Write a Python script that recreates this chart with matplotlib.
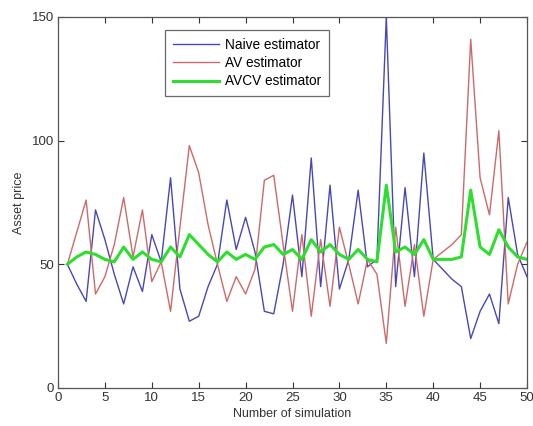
import matplotlib
matplotlib.use("Agg")
import matplotlib.pyplot as plt

sim = list(range(1, 51))
naive = [50, 42, 35, 72, 60, 46, 34, 49, 39, 62,
         51, 85, 40, 27, 29, 41, 50, 76, 56, 69,
         55, 31, 30, 50, 78, 45, 93, 41, 82, 40,
         52, 80, 49, 52, 150, 41, 81, 45, 95, 52,
         48, 44, 41, 20, 31, 38, 26, 77, 54, 45]
av = [50, 63, 76, 38, 45, 58, 77, 53, 72, 43,
      51, 31, 65, 98, 87, 66, 50, 35, 45, 38,
      48, 84, 86, 58, 31, 62, 29, 60, 33, 65,
      50, 34, 52, 46, 18, 65, 33, 58, 29, 52,
      55, 58, 62, 141, 85, 70, 104, 34, 50, 59]
avcv = [50, 53, 55, 54, 52, 51, 57, 52, 55, 52,
        51, 57, 53, 62, 58, 54, 51, 55, 52, 54,
        52, 57, 58, 54, 56, 52, 60, 55, 58, 54,
        52, 56, 52, 51, 82, 55, 57, 54, 60, 52,
        52, 52, 53, 80, 57, 54, 64, 57, 53, 52]

xticks = [0, 5, 10, 15, 20, 25, 30, 35, 40, 45, 50]
yticks = [0, 50, 100, 150]

plt.rcParams['font.family'] = ['Liberation Sans', 'DejaVu Sans']

fig = plt.figure(figsize=(5.33, 4.26), dpi=100)
ax = fig.add_axes([58/533, 1-388/426, (527-58)/533, (388-17)/426])

ax.plot(sim, naive, color='#4848b4', lw=1.0, label='Naive estimator')
ax.plot(sim, av, color='#cc6a6a', lw=1.0, label='AV estimator')
ax.plot(sim, avcv, color='#2ede2e', lw=2.2, label='AVCV estimator')

ax.set_xlim(0, 50)
ax.set_ylim(0, 150)
ax.set_xticks(xticks)
ax.set_yticks(yticks)
ax.tick_params(direction='in', top=True, right=True, length=4, width=0.8,
               labelsize=9.5, colors='#333333', labelcolor='#333333', pad=3)
for s in ax.spines.values():
    s.set_color('#555555')
    s.set_linewidth(0.9)

ax.set_xlabel('Number of simulation', fontsize=9, color='#333333', labelpad=3)
ax.set_ylabel('Asset price', fontsize=9, color='#333333', labelpad=5)

leg = ax.legend(loc='upper left', bbox_to_anchor=(0.228, 0.965), fontsize=9.8,
                handlelength=3.4, frameon=True, fancybox=False, borderpad=0.6,
                labelspacing=0.3, handletextpad=0.4, borderaxespad=0)
leg.get_frame().set_edgecolor('#444444')
leg.get_frame().set_linewidth(0.9)

fig.savefig('out.png', dpi=100)
